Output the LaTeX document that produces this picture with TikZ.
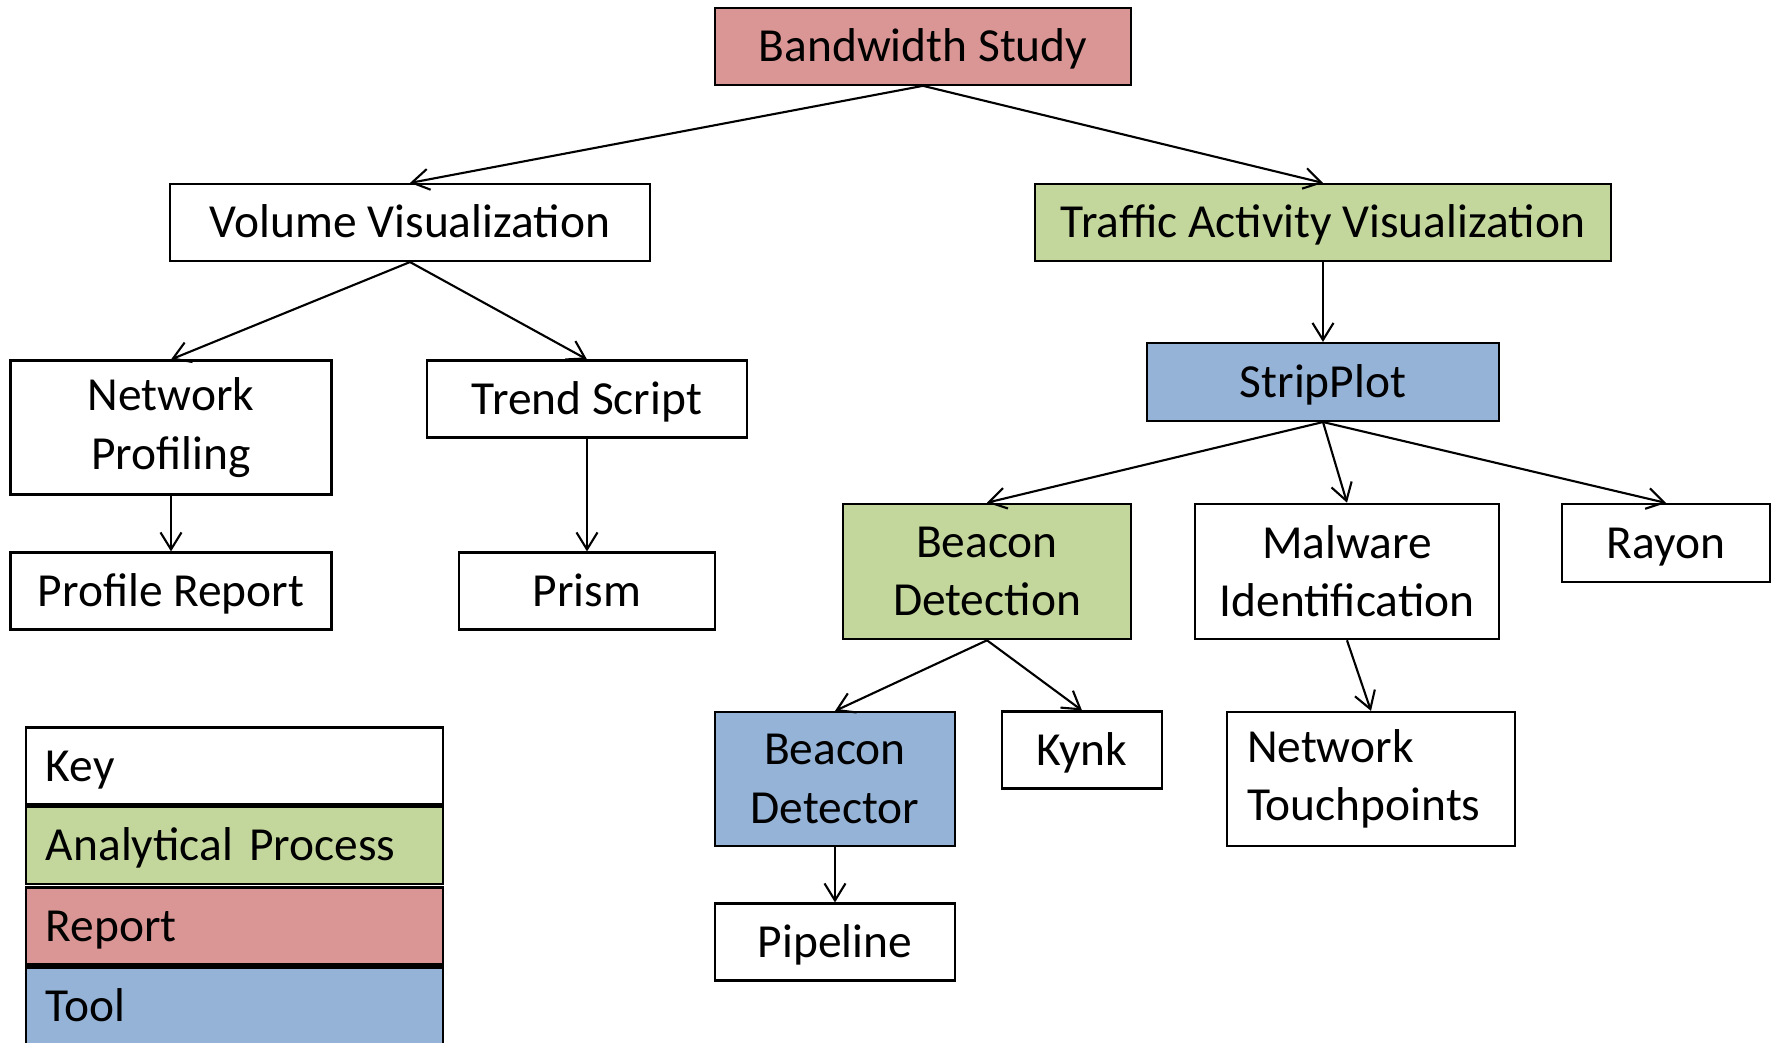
\documentclass[tikz,border=0pt]{standalone}
\usepackage{fontspec}
\setmainfont{Carlito}
\usetikzlibrary{arrows.meta}

\definecolor{reportred}{RGB}{217,150,148}
\definecolor{processgreen}{RGB}{195,214,155}
\definecolor{toolblue}{RGB}{149,179,215}

\begin{document}
\begin{tikzpicture}[every node/.style={font=\fontsize{13.5}{16.6}\selectfont},
  item/.style={draw, line width=0.6pt, align=center, minimum height=0.77cm, inner sep=0pt},
  single/.style={execute at begin node={\rule{0pt}{0.9em}}, execute at end node={\rule[-0.25em]{0pt}{0pt}}},
  twoline/.style={minimum height=1.34cm},
  reportbox/.style={item, fill=reportred},
  procbox/.style={item, fill=processgreen},
  toolbox/.style={item, fill=toolblue},
  keyrow/.style={item, single, text width=3.77cm, inner xsep=0.2cm, align=left},
  link/.style={-{Straight Barb[length=1.7mm, width=2.1mm]}, line width=0.6pt}]
  \useasboundingbox (0,0) rectangle (17.71,-10.43);

  % top of the tree
  \node[reportbox, single, minimum width=4.16cm] (study) at (9.23,-0.463) {Bandwidth Study};
  \node[item, single, minimum width=4.80cm] (volume) at (4.10,-2.225) {Volume Visualization};
  \node[procbox, single, minimum width=5.76cm] (traffic) at (13.23,-2.225) {Traffic Activity Visualization};

  % volume branch
  \node[item, twoline, minimum width=3.21cm] (netprof) at (1.71,-4.275) {Network\\ Profiling};
  \node[item, single, minimum width=3.20cm] (trend) at (5.87,-3.99) {Trend Script};
  \node[item, single, minimum width=3.21cm] (profrep) at (1.71,-5.91) {Profile Report};
  \node[item, single, minimum width=2.56cm] (prism) at (5.87,-5.91) {Prism};

  % traffic branch
  \node[toolbox, single, minimum width=3.52cm, minimum height=0.78cm] (strip) at (13.23,-3.82) {StripPlot};
  \node[procbox, twoline, minimum width=2.88cm, minimum height=1.355cm] (beacdet) at (9.87,-5.715) {Beacon\\ Detection};
  \node[item, twoline, minimum width=3.04cm, minimum height=1.355cm] (malware) at (13.47,-5.715) {Malware\\ Identification};
  \node[item, single, minimum width=2.08cm, minimum height=0.78cm] (rayon) at (16.66,-5.43) {Rayon};
  \node[toolbox, twoline, minimum width=2.40cm] (detector) at (8.35,-7.79) {Beacon\\ Detector};
  \node[item, single, minimum width=1.60cm] (kynk) at (10.82,-7.50) {Kynk};
  \node[item, twoline, align=left, text width=2.48cm, inner xsep=0.2cm] (touch) at (13.71,-7.79) {Network\\ Touchpoints};
  \node[item, single, minimum width=2.40cm] (pipeline) at (8.35,-9.42) {Pipeline};

  \draw[link] (study.south) -- (volume.north);
  \draw[link] (study.south) -- (traffic.north);
  \draw[link] (volume.south) -- (netprof.north);
  \draw[link] (volume.south) -- (trend.north);
  \draw[link] (netprof.south) -- (profrep.north);
  \draw[link] (trend.south) -- (prism.north);
  \draw[link] (traffic.south) -- (strip.north);
  \draw[link] (strip.south) -- (beacdet.north);
  \draw[link] (strip.south) -- (malware.north);
  \draw[link] (strip.south) -- (rayon.north);
  \draw[link] (beacdet.south) -- (detector.north);
  \draw[link] (beacdet.south) -- (kynk.north);
  \draw[link] (malware.south) -- (touch.north);
  \draw[link] (detector.south) -- (pipeline.north);

  % key
  \node[keyrow] (key) at (2.344,-7.66) {Key};
  \node[keyrow, fill=processgreen] (keyproc) at (2.344,-8.455) {Analytical Process};
  \node[keyrow, fill=reportred] (keyrep) at (2.344,-9.26) {Report};
  \node[keyrow, fill=toolblue] (keytool) at (2.344,-10.06) {Tool};
\end{tikzpicture}
\end{document}
